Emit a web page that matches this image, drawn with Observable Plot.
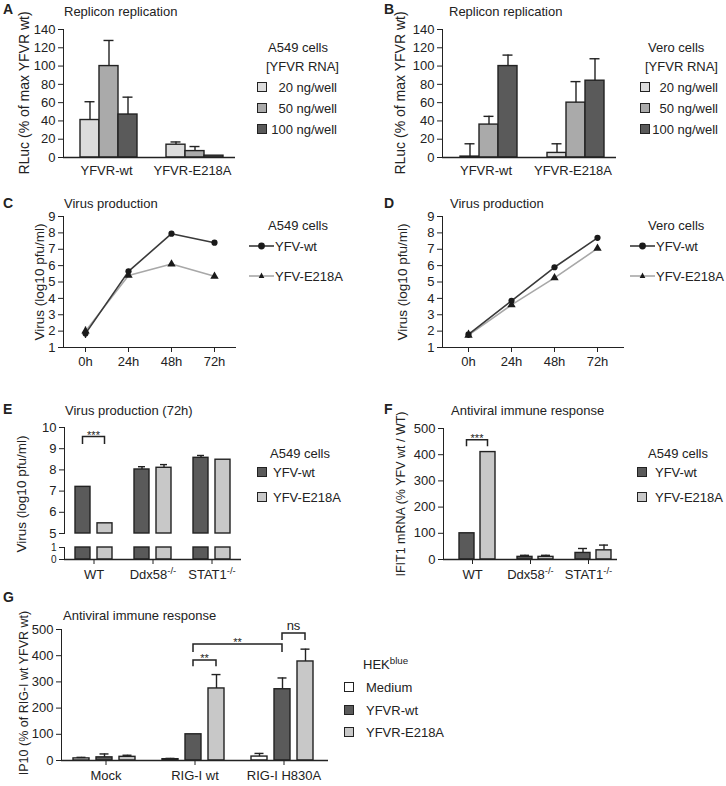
<!DOCTYPE html>
<html>
<head>
<meta charset="utf-8">
<script src="https://cdn.jsdelivr.net/npm/d3@7"></script>
<script src="https://cdn.jsdelivr.net/npm/@observablehq/plot@0.6"></script>
<style>
html,body{margin:0;padding:0;background:#fff;}
#fig{position:relative;width:726px;height:786px;overflow:hidden;font-family:"Liberation Sans",Arial,Helvetica,sans-serif;color:#222;background:#fff;}
.t{position:absolute;white-space:nowrap;line-height:1;}
.sw{position:absolute;width:10px;height:10px;box-sizing:border-box;border:1.5px solid #222;}
.pl{position:absolute;}
.pl svg{display:block;overflow:visible;}
.pl svg text{font-size:13px;}
sup{font-size:0.75em;vertical-align:0.5em;line-height:0;}
</style>
</head>
<body>
<div id="fig"></div>
<script>
// ---------------- data ----------------
const abGroups = ["YFVR-wt", "YFVR-E218A"];
const abDoses = ["20 ng/well", "50 ng/well", "100 ng/well"];
const aMean = [41, 100, 47, 14, 7, 2];
const aTop  = [61, 128, 66, 17, 12, 2];
const bMean = [1, 36, 100, 5, 60, 84];
const bTop  = [15, 45, 112, 15, 83, 108];
const abTicks = [0, 20, 40, 60, 80, 100, 120, 140];

const timepoints = ["0h", "24h", "48h", "72h"];
const lineSeries = ["YFV-wt", "YFV-E218A"];
const cWt = [1.85, 5.65, 7.95, 7.4];
const cWtErr = [0.3, 0.12, 0.08, 0.08];
const cMut = [2.0, 5.4, 6.1, 5.35];
const cMutErr = [0.25, 0.1, 0.08, 0.06];
const dWt = [1.8, 3.85, 5.9, 7.7];
const dWtErr = [0.25, 0.1, 0.07, 0.12];
const dMut = [1.75, 3.6, 5.25, 7.05];
const dMutErr = [0.2, 0.1, 0.1, 0.06];
const lineTicks = [1, 2, 3, 4, 5, 6, 7, 8, 9];

const efGroups = ["WT", "Ddx58-/-", "STAT1-/-"];
const efSeries = ["YFV-wt", "YFV-E218A"];
const eMean = [7.2, 5.48, 8.02, 8.1, 8.57, 8.48];
const eTop  = [7.2, 5.48, 8.15, 8.25, 8.68, 8.48];
const eTicksUpper = [5, 6, 7, 8, 9, 10];
const eTicksLower = [0, 1];
const fMean = [100, 410, 10, 10, 25, 35];
const fTop  = [100, 410, 16, 16, 42, 55];
const fgTicks = [0, 100, 200, 300, 400, 500];

const gGroups = ["Mock", "RIG-I wt", "RIG-I H830A"];
const gSeries = ["Medium", "YFVR-wt", "YFVR-E218A"];
const gMean = [8, 12, 14, 5, 100, 275, 15, 272, 378];
const gTop  = [12, 25, 20, 8, 100, 328, 27, 315, 425];

const eBrackets = [{from: ["WT", "YFV-wt"], to: ["WT", "YFV-E218A"], top: 9.55, leg: 9.2, label: "***"}];
const fBrackets = [{from: ["WT", "YFV-wt"], to: ["WT", "YFV-E218A"], top: 455, leg: 430, label: "***"}];
const gBrackets = [
  {from: ["RIG-I wt", "YFVR-wt"], to: ["RIG-I wt", "YFVR-E218A"], top: 382, leg: 358, label: "**"},
  {from: ["RIG-I wt", "YFVR-wt"], to: ["RIG-I H830A", "YFVR-wt"], top: 443, leg: 412, label: "**"},
  {from: ["RIG-I H830A", "YFVR-wt"], to: ["RIG-I H830A", "YFVR-E218A"], top: 485, leg: 458, label: "ns"}
];

// ---------------- styles ----------------
const abColors = ["#dcdcdc", "#aaaaaa", "#5a5a5a"];
const efColors = ["#5a5a5a", "#c8c8c8"];
const gColors = ["#ffffff", "#5a5a5a", "#c8c8c8"];
const lineColors = ["#3a3a3a", "#a8a8a8"];
const FONT = '"Liberation Sans", Arial, Helvetica, sans-serif';
const INK = "#222";
const intFmt = d3.format("d");
const fig = document.getElementById("fig");

function mount(node, left, top) {
  const div = document.createElement("div");
  div.className = "pl";
  div.style.left = left + "px";
  div.style.top = top + "px";
  div.style.width = node.getAttribute("width") + "px";
  div.appendChild(node);
  fig.appendChild(div);
  return node;
}
function text(str, x, y, o = {}) {
  const d = document.createElement("div");
  d.className = "t";
  const tx = o.anchor === "end" ? "-100%" : o.anchor === "middle" ? "-50%" : "0";
  d.style.left = x + "px";
  d.style.top = y + "px";
  d.style.fontSize = (o.size || 13) + "px";
  d.style.fontWeight = o.weight || "normal";
  d.style.transform = `translate(${tx},-50%)`;
  if (o.html) d.innerHTML = str; else d.textContent = str;
  fig.appendChild(d);
}
function vtext(str, cx, cy, size) {
  const d = document.createElement("div");
  d.className = "t";
  d.style.left = cx + "px";
  d.style.top = cy + "px";
  d.style.fontSize = size + "px";
  d.style.transform = "translate(-50%,-50%) rotate(-90deg)";
  d.textContent = str;
  fig.appendChild(d);
}
function swatch(x, y, color) {
  const d = document.createElement("div");
  d.className = "sw";
  d.style.left = x + "px";
  d.style.top = (y - 5) + "px";
  d.style.background = color;
  fig.appendChild(d);
}
function lineKey(x1, x2, y, color, symbol) {
  const w = x2 - x1;
  const svg = d3.create("svg").attr("width", w).attr("height", 12)
    .style("position", "absolute").style("left", x1 + "px").style("top", (y - 6) + "px").style("overflow", "visible");
  svg.append("line").attr("x1", 0).attr("x2", w).attr("y1", 6).attr("y2", 6).attr("stroke", color).attr("stroke-width", 1.6);
  if (symbol === "circle") svg.append("circle").attr("cx", w / 2).attr("cy", 6).attr("r", 3.4).attr("fill", "#1a1a1a");
  else svg.append("path").attr("d", `M${w / 2},2.5L${w / 2 + 2.8},8L${w / 2 - 2.8},8Z`).attr("fill", "#1a1a1a");
  fig.appendChild(svg.node());
}

function superscripts(svg) {
  d3.select(svg).selectAll("text").each(function () {
    const m = this.textContent.match(/^(.*?)(-\/-)$/);
    if (!m) return;
    const el = d3.select(this);
    el.text(null);
    el.append("tspan").text(m[1]);
    el.append("tspan").attr("dy", "-0.45em").style("font-size", "9.5px").text(m[2]);
  });
}
function brackets(svg, list) {
  const fx = svg.scale("fx"), x = svg.scale("x"), y = svg.scale("y");
  const pos = ([g, s]) => fx.apply(g) + x.apply(s) - x.range[0] + x.bandwidth / 2;
  const sel = d3.select(svg);
  for (const b of list) {
    const x1 = pos(b.from), x2 = pos(b.to), yt = y.apply(b.top), yl = y.apply(b.leg);
    sel.append("path").attr("d", `M${x1},${yl}V${yt}H${x2}V${yl}`)
      .attr("fill", "none").attr("stroke", INK).attr("stroke-width", 1.5);
    const ns = b.label === "ns";
    sel.append("text").attr("x", (x1 + x2) / 2).attr("y", ns ? yt - 3 : yt + 2)
      .attr("text-anchor", "middle").style("font-size", ns ? "13px" : "11px").attr("fill", INK).text(b.label);
  }
}

function groupedBars(c) {
  const n = c.series.length;
  const rows = c.groups.flatMap((g, i) => c.series.map((s, j) => ({group: g, series: s, value: c.mean[i * n + j], top: c.top[i * n + j]})));
  const [lo, hi] = c.yDomain;
  const marks = [
    Plot.barY(rows, {fx: "group", x: "series", y1: lo, y2: d => Math.min(d.value, hi), fill: "series", stroke: INK, strokeWidth: 1.4})
  ];
  if (c.errors) {
    const withErr = rows.filter(d => d.top > d.value);
    marks.push(Plot.ruleX(withErr, {fx: "group", x: "series", y1: "value", y2: "top", stroke: INK, strokeWidth: 1.4}));
    marks.push(Plot.tickY(withErr, {fx: "group", x: "series", y: "top", stroke: INK, strokeWidth: 1.4, insetLeft: c.cap, insetRight: c.cap}));
  }
  if (c.baseline) marks.push(Plot.ruleY([lo], {stroke: INK, strokeWidth: 1.4}));
  return Plot.plot({
    width: c.width, height: c.height,
    marginLeft: c.ml, marginRight: c.mr, marginTop: c.mt, marginBottom: c.mb,
    style: {fontFamily: FONT, fontSize: "13px", color: INK, background: "transparent", overflow: "visible"},
    fx: {domain: c.groups, padding: 0, label: null, axis: c.fxAxis ? "bottom" : null, tickSize: c.fxTick || 0, tickPadding: c.fxPad || 6},
    x: {domain: c.series, paddingInner: c.pi, paddingOuter: c.po, align: c.align == null ? 0.5 : c.align, axis: null},
    y: {domain: c.yDomain, ticks: c.yTicks, tickFormat: intFmt, tickSize: 5, tickPadding: 3, label: null, line: true},
    color: {domain: c.series, range: c.colors},
    marks
  });
}

function linePlot(c) {
  const rows = [];
  timepoints.forEach((t, i) => rows.push({t, series: lineSeries[1], value: c.mut[i], err: c.mutErr[i]}));
  timepoints.forEach((t, i) => rows.push({t, series: lineSeries[0], value: c.wt[i], err: c.wtErr[i]}));
  return Plot.plot({
    width: c.width, height: c.height,
    marginLeft: c.ml, marginRight: c.mr, marginTop: c.mt, marginBottom: c.mb,
    style: {fontFamily: FONT, fontSize: "13px", color: INK, background: "transparent", overflow: "visible"},
    x: {type: "point", domain: timepoints, padding: c.xPad, tickSize: 5, tickPadding: 4, line: true, label: null},
    y: {domain: [1, 9], ticks: lineTicks, tickFormat: intFmt, tickSize: 5, tickPadding: 3, line: true, label: null},
    color: {domain: lineSeries, range: lineColors},
    symbol: {domain: lineSeries, range: ["circle", "triangle"]},
    marks: [
      Plot.line(rows, {x: "t", y: "value", z: "series", stroke: "series", strokeWidth: 1.6}),
      Plot.ruleX(rows, {x: "t", y1: d => d.value - d.err, y2: d => d.value + d.err, stroke: INK, strokeWidth: 1.3}),
      Plot.dot(rows, {x: "t", y: "value", symbol: "series", fill: "#1a1a1a", stroke: "none", r: 3.1})
    ]
  });
}

// ---------------- Panel A ----------------
mount(groupedBars({groups: abGroups, series: abDoses, mean: aMean, top: aTop, colors: abColors,
  width: 250, height: 180, ml: 63, mr: 15, mt: 29, mb: 23, yDomain: [0, 140], yTicks: abTicks,
  pi: 0, po: 0.7245, align: 0.57, fxAxis: true, fxTick: 0, fxPad: 8, errors: true, cap: 4.5, baseline: true}), 0, 0);
// ---------------- Panel B ----------------
mount(groupedBars({groups: abGroups, series: abDoses, mean: bMean, top: bTop, colors: abColors,
  width: 250, height: 180, ml: 63, mr: 13, mt: 29, mb: 23, yDomain: [0, 140], yTicks: abTicks,
  pi: 0, po: 0.7308, align: 0.6, fxAxis: true, fxTick: 0, fxPad: 8, errors: true, cap: 4.5, baseline: true}), 379, 0);
// ---------------- Panel C / D ----------------
mount(linePlot({wt: cWt, wtErr: cWtErr, mut: cMut, mutErr: cMutErr, width: 250, height: 180, ml: 63, mr: 15, mt: 16, mb: 33, xPad: 0.5}), 0, 200);
mount(linePlot({wt: dWt, wtErr: dWtErr, mut: dMut, mutErr: dMutErr, width: 250, height: 180, ml: 63, mr: 6, mt: 16, mb: 33, xPad: 0.57}), 379, 200);
// ---------------- Panel E (broken axis) ----------------
const eUp = mount(groupedBars({groups: efGroups, series: efSeries, mean: eMean, top: eTop, colors: efColors,
  width: 250, height: 140, ml: 63, mr: 8, mt: 27, mb: 7, yDomain: [5, 10], yTicks: eTicksUpper,
  pi: 0.3, po: 0.45, fxAxis: false, errors: true, cap: 4, baseline: false}), 0, 400);
brackets(eUp, eBrackets);
const eLow = mount(groupedBars({groups: efGroups, series: efSeries, mean: eMean, top: eTop, colors: efColors,
  width: 250, height: 52, ml: 63, mr: 8, mt: 8, mb: 32, yDomain: [0, 1], yTicks: eTicksLower,
  pi: 0.3, po: 0.45, fxAxis: true, fxTick: 5, fxPad: 5, errors: false, baseline: true}), 0, 539);
d3.select(eLow).selectAll("text").filter(function () { return /^[01]$/.test(this.textContent); }).style("font-size", "10px");
superscripts(eLow);
// ---------------- Panel F ----------------
const fSvg = mount(groupedBars({groups: efGroups, series: efSeries, mean: fMean, top: fTop, colors: efColors,
  width: 250, height: 190, ml: 63, mr: 11.5, mt: 28, mb: 31, yDomain: [0, 500], yTicks: fgTicks,
  pi: 0.295, po: 0.477, align: 0.73, fxAxis: true, fxTick: 5, fxPad: 5, errors: true, cap: 3, baseline: true}), 379, 400);
superscripts(fSvg);
brackets(fSvg, fBrackets);
// ---------------- Panel G ----------------
const gSvg = mount(groupedBars({groups: gGroups, series: gSeries, mean: gMean, top: gTop, colors: gColors,
  width: 340, height: 186, ml: 60, mr: 11.5, mt: 29, mb: 26, yDomain: [0, 500], yTicks: fgTicks,
  pi: 0.29, po: 0.51, align: 0.46, fxAxis: true, fxTick: 5, fxPad: 5, errors: true, cap: 3.5, baseline: true}), 0, 600);
brackets(gSvg, gBrackets);

// ---------------- Text: panel letters, titles, axis labels ----------------
[["A", 3, 9], ["B", 384, 9], ["C", 3, 203], ["D", 384, 203], ["E", 3, 409], ["F", 384, 409], ["G", 3, 597]]
  .forEach(([l, x, y]) => text(l, x, y, {size: 14, weight: "bold"}));
text("Replicon replication", 64, 11);
text("Replicon replication", 449, 11);
text("Virus production", 64, 203);
text("Virus production", 450, 203);
text("Virus production (72h)", 65, 410);
text("Antiviral immune response", 451, 410);
text("Antiviral immune response", 63, 615);

vtext("RLuc (% of max YFVR wt)", 24, 93, 14);
vtext("RLuc (% of max YFVR wt)", 400, 93, 14);
vtext("Virus (log10 pfu/ml)", 40, 282, 13.5);
vtext("Virus (log10 pfu/ml)", 403, 282, 13.5);
vtext("Virus (log10 pfu/ml)", 22, 494, 13.5);
vtext("IFIT1 mRNA (% YFV wt / WT)", 401, 494, 12.5);
vtext("IP10 (% of RIG-I wt YFVR wt)", 24, 693, 12.5);

// ---------------- Legends ----------------
// A
text("A549 cells", 268, 47);
text("[YFVR RNA]", 266, 66);
abDoses.forEach((s, i) => { swatch(257, 87 + i * 21, abColors[i]); text(s, 337, 87 + i * 21, {anchor: "end"}); });
// B
text("Vero cells", 648, 47);
text("[YFVR RNA]", 645, 66);
abDoses.forEach((s, i) => { swatch(640, 87 + i * 21, abColors[i]); text(s, 718, 87 + i * 21, {anchor: "end"}); });
// C
text("A549 cells", 268, 225);
lineSeries.forEach((s, i) => { lineKey(249, 274, 246 + i * 30, lineColors[i], i === 0 ? "circle" : "triangle"); text(s, 275, 246 + i * 30); });
// D
text("Vero cells", 648, 225);
lineSeries.forEach((s, i) => { lineKey(630, 655, 246 + i * 30, lineColors[i], i === 0 ? "circle" : "triangle"); text(s, 656, 246 + i * 30); });
// E
text("A549 cells", 270, 453);
efSeries.forEach((s, i) => { swatch(257, 472 + i * 24.5, efColors[i]); text(s, 273, 472 + i * 24.5); });
// F
text("A549 cells", 648, 453);
efSeries.forEach((s, i) => { swatch(637, 472 + i * 24.5, efColors[i]); text(s, 655, 472 + i * 24.5); });
// G
text("HEK<sup>blue</sup>", 363, 664, {html: true});
gSeries.forEach((s, i) => { swatch(344, 687 + i * 22.5, gColors[i]); text(s, 366, 687 + i * 22.5); });
</script>
</body>
</html>
